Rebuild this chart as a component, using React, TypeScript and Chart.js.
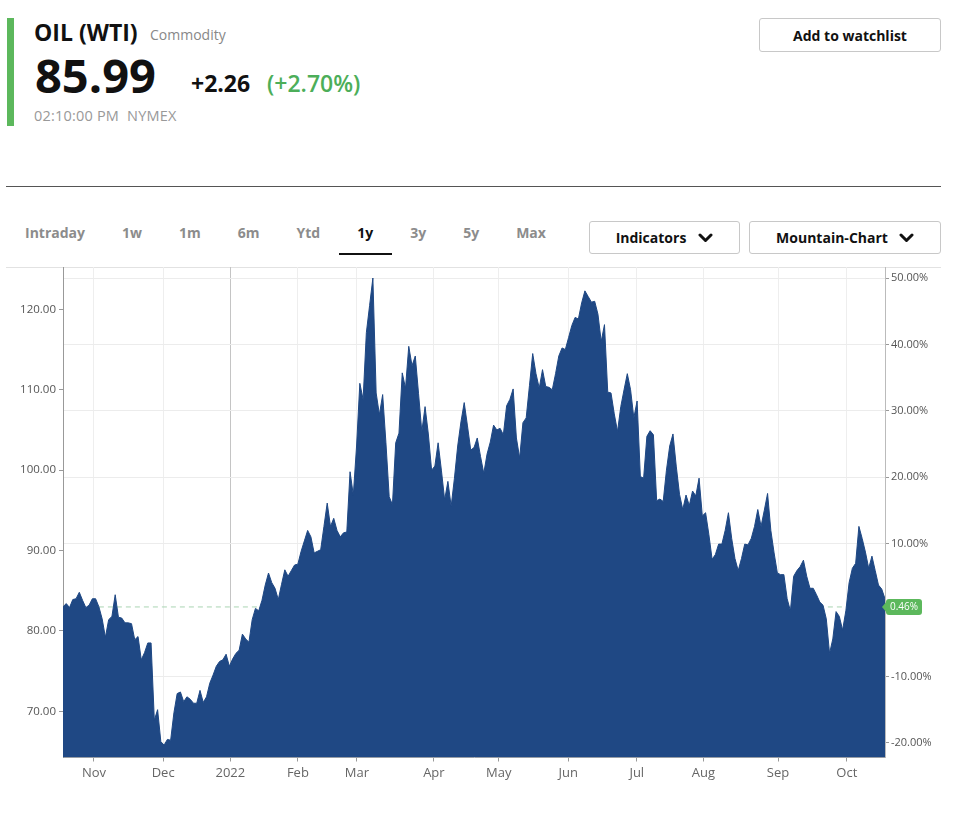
import { useEffect, useRef } from 'react';
import { Chart, registerables } from 'chart.js';

Chart.register(...registerables);

// ---- data ----
const prices = [
  83.0, 83.4, 82.9, 83.9, 84.0, 84.8, 83.8, 82.9, 83.2, 84.0,
  84.0, 83.0, 81.5, 79.2, 81.4, 81.8, 84.5, 81.7, 81.6, 81.0,
  81.0, 80.9, 78.9, 79.3, 76.4, 77.3, 78.5, 78.5, 68.9, 70.2,
  66.2, 65.8, 66.5, 66.4, 69.8, 72.2, 72.4, 71.2, 71.8, 71.5,
  71.0, 71.0, 72.6, 71.1, 71.8, 73.5, 74.5, 75.6, 76.2, 76.4,
  77.1, 75.6, 76.5, 77.2, 77.6, 79.6, 79.0, 78.6, 81.4, 82.8,
  82.5, 83.8, 85.7, 87.2, 86.0, 85.3, 83.9, 85.8, 87.6, 86.8,
  87.5, 88.2, 88.3, 89.9, 91.2, 92.5, 91.7, 89.7, 89.9, 90.1,
  93.0, 95.9, 93.0, 94.0, 92.5, 91.7, 92.2, 92.3, 99.8, 96.9,
  103.0, 110.8, 108.8, 117.1, 120.5, 123.9, 109.6, 106.9, 109.4, 103.4,
  96.7, 95.7, 103.4, 104.6, 112.1, 110.2, 115.4, 113.0, 114.2, 109.5,
  104.8, 107.9, 104.5, 100.0, 100.5, 103.4, 100.0, 96.3, 98.6, 95.5,
  99.0, 103.0, 106.0, 108.4, 105.5, 102.5, 102.8, 104.0, 101.7, 99.6,
  102.0, 103.5, 105.6, 105.0, 105.2, 104.4, 108.0, 108.8, 110.1, 104.0,
  101.5, 105.9, 106.5, 110.5, 114.5, 112.0, 110.2, 112.5, 110.4, 110.3,
  110.0, 112.0, 114.2, 115.2, 115.0, 116.5, 118.0, 119.0, 118.8, 120.8,
  122.3, 121.6, 120.9, 121.0, 119.4, 116.0, 118.1, 109.7, 109.6, 107.0,
  104.8, 107.9, 110.0, 112.0, 110.0, 106.5, 108.6, 99.2, 99.0, 104.2,
  104.9, 104.4, 96.2, 96.4, 96.1, 100.0, 103.0, 104.5, 100.5, 97.0,
  95.1, 96.9, 95.6, 97.4, 96.8, 99.0, 94.3, 94.7, 92.0, 88.9,
  89.5, 90.8, 90.8, 92.5, 94.7, 91.5, 89.0, 87.5, 89.0, 90.8,
  90.7, 91.5, 93.0, 95.1, 93.0, 95.0, 97.1, 92.5, 89.7, 87.2,
  87.0, 87.0, 84.0, 82.5, 86.8, 87.5, 88.0, 88.8, 86.8, 85.3,
  85.3, 84.5, 83.6, 83.2, 81.5, 77.2, 79.0, 82.4, 81.8, 80.1,
  82.5, 86.0, 87.8, 88.4, 93.0, 91.5, 89.8, 87.8, 89.3, 87.5,
  85.7, 85.2, 84.0,
];
const monthTickIdx = [9.5, 30.7, 51.3, 72, 90.1, 113.7, 133.6, 154.9, 175.9, 196.3, 219.2, 240.3];
const monthLabels = ['Nov', 'Dec', '2022', 'Feb', 'Mar', 'Apr', 'May', 'Jun', 'Jul', 'Aug', 'Sep', 'Oct'];
const priceTicks = [70, 80, 90, 100, 110, 120];
const pctTicks = [-20, -10, 10, 20, 30, 40, 50];
const basePrice = 82.6;
const refPct = 0.46;
const refStartIdx = 11;
const priceMin = 64.25;
const priceMax = 125.27;
const tabs = ['Intraday', '1w', '1m', '6m', 'Ytd', '1y', '3y', '5y', 'Max'];
const activeTab = '1y';

const FONT = '"Open Sans", "DejaVu Sans", sans-serif';
const AREA = '#1f4884';
const GREEN = '#5cb85c';

function Chevron() {
  return (
    <svg width="15" height="10" viewBox="0 0 15 10" style={{ display: 'block' }}>
      <polyline points="2,2 7.5,7.5 13,2" fill="none" stroke="#111" strokeWidth="3" strokeLinecap="round" strokeLinejoin="round" />
    </svg>
  );
}

export default function App() {
  const canvasRef = useRef<HTMLCanvasElement | null>(null);

  useEffect(() => {
    if (!canvasRef.current) return;
    const refPrice = basePrice * (1 + refPct / 100);
    const refPlugin = {
      id: 'refLine',
      beforeDatasetsDraw(chart: any) {
        const { ctx, chartArea, scales } = chart;
        const y = scales.y.getPixelForValue(refPrice);
        const x0 = scales.x.getPixelForValue(refStartIdx);
        ctx.save();
        ctx.setLineDash([5, 4]);
        ctx.strokeStyle = '#a9d4b2';
        ctx.lineWidth = 1;
        ctx.beginPath();
        ctx.moveTo(x0, y);
        ctx.lineTo(chartArea.right, y);
        ctx.stroke();
        ctx.restore();
      },
      afterDraw(chart: any) {
        const { ctx, chartArea, scales } = chart;
        const y = scales.y.getPixelForValue(refPrice);
        const tip = chartArea.right - 3;
        const bx = chartArea.right + 1;
        const bw = 36;
        const bh = 16;
        ctx.save();
        ctx.fillStyle = GREEN;
        ctx.beginPath();
        ctx.moveTo(tip, y);
        ctx.lineTo(bx + 1, y - 6);
        ctx.lineTo(bx + 1, y + 6);
        ctx.closePath();
        ctx.fill();
        ctx.beginPath();
        if ((ctx as any).roundRect) {
          (ctx as any).roundRect(bx, y - bh / 2, bw, bh, 3);
        } else {
          ctx.rect(bx, y - bh / 2, bw, bh);
        }
        ctx.fill();
        ctx.fillStyle = '#fff';
        ctx.font = '10px ' + FONT;
        ctx.textAlign = 'center';
        ctx.textBaseline = 'middle';
        ctx.fillText(refPct.toFixed(2) + '%', bx + bw / 2, y + 0.5);
        ctx.restore();
      },
    };

    const chart = new Chart(canvasRef.current, {
      type: 'line',
      data: {
        datasets: [
          {
            data: prices.map((p, i) => ({ x: i, y: p })),
            borderColor: AREA,
            backgroundColor: AREA,
            borderWidth: 1,
            pointRadius: 0,
            tension: 0,
            fill: 'start',
          },
        ],
      },
      options: {
        animation: false,
        responsive: false,
        devicePixelRatio: 1,
        layout: { padding: { top: 20, left: 0, right: 0, bottom: 0 } },
        plugins: { legend: { display: false }, tooltip: { enabled: false } },
        scales: {
          x: {
            type: 'linear',
            min: 0,
            max: prices.length - 1,
            afterBuildTicks: (axis: any) => {
              axis.ticks = monthTickIdx.map((v) => ({ value: v }));
            },
            afterFit: (scale: any) => {
              scale.height = 42.5;
            },
            ticks: {
              autoSkip: false,
              maxRotation: 0,
              padding: 4,
              color: '#666',
              font: { family: FONT, size: 13 },
              callback: (_v: any, i: number) => monthLabels[i],
            },
            grid: {
              color: (c: any) => (monthLabels[c.index] === '2022' ? '#c4c4c4' : '#eeeeee'),
              tickLength: 4,
              tickColor: '#999',
            },
            border: { display: true, color: '#aaa' },
          },
          y: {
            type: 'linear',
            position: 'left',
            min: priceMin,
            max: priceMax,
            afterBuildTicks: (axis: any) => {
              axis.ticks = priceTicks.map((v) => ({ value: v }));
            },
            afterFit: (scale: any) => {
              scale.width = 63;
            },
            ticks: {
              padding: 3,
              color: '#555',
              font: { family: FONT, size: 11.5 },
              callback: (v: any) => Number(v).toFixed(2),
            },
            grid: { drawOnChartArea: false, tickLength: 4, tickColor: '#999' },
            border: { display: true, color: '#999' },
          },
          y2: {
            type: 'linear',
            position: 'right',
            min: (priceMin / basePrice - 1) * 100,
            max: (priceMax / basePrice - 1) * 100,
            afterBuildTicks: (axis: any) => {
              axis.ticks = pctTicks.map((v) => ({ value: v }));
            },
            afterFit: (scale: any) => {
              scale.width = 75;
            },
            ticks: {
              padding: 2,
              color: '#555',
              font: { family: FONT, size: 11 },
              callback: (v: any) => Number(v).toFixed(2) + '%',
            },
            grid: { drawOnChartArea: true, color: '#ececec', tickLength: 4, tickColor: '#999' },
            border: { display: true, color: '#bbb' },
          },
        },
      },
      plugins: [refPlugin],
    } as any);
    return () => chart.destroy();
  }, []);

  const abs = (s: any) => ({ position: 'absolute' as const, ...s });

  return (
    <div style={{ position: 'fixed', left: 0, top: 0, width: 960, height: 816, background: '#fff', fontFamily: FONT, color: '#111', overflow: 'hidden' }}>
      {/* header */}
      <div style={abs({ left: 7, top: 18, width: 7, height: 108, background: GREEN })} />
      <div style={abs({ left: 34, top: 21, fontSize: 23, lineHeight: '23px', fontWeight: 700, whiteSpace: 'nowrap' })}>OIL (WTI)</div>
      <div style={abs({ left: 150, top: 28, fontSize: 14, lineHeight: '14px', color: '#888', whiteSpace: 'nowrap' })}>Commodity</div>
      <div style={abs({ left: 35, top: 51.5, fontSize: 47, lineHeight: '47px', fontWeight: 700, whiteSpace: 'nowrap' })}>85.99</div>
      <div style={abs({ left: 191, top: 72, fontSize: 23, lineHeight: '23px', fontWeight: 700, whiteSpace: 'nowrap' })}>+2.26</div>
      <div style={abs({ left: 267, top: 72, fontSize: 23, lineHeight: '23px', fontWeight: 600, color: '#4cae59', whiteSpace: 'nowrap' })}>(+2.70%)</div>
      <div style={abs({ left: 34, top: 108.5, fontSize: 14.5, lineHeight: '14.5px', color: '#999', whiteSpace: 'pre', letterSpacing: '0.2px' })}>02:10:00 PM  NYMEX</div>

      <div style={abs({ left: 759, top: 18, width: 182, height: 34, boxSizing: 'border-box', border: '1px solid #c8c8c8', borderRadius: 3, display: 'flex', alignItems: 'center', justifyContent: 'center', fontSize: 14, fontWeight: 700 })}>Add to watchlist</div>

      <div style={abs({ left: 6, top: 186, width: 935, height: 1, background: '#555' })} />

      {/* tabs */}
      <div style={abs({ left: 6.5, top: 225.5, display: 'flex' })}>
        {tabs.map((t) => (
          <div
            key={t}
            style={{
              padding: '0 18.5px',
              height: 27.5,
              lineHeight: '14px',
              fontSize: 14,
              fontWeight: 700,
              color: t === activeTab ? '#111' : '#8c8c8c',
              borderBottom: t === activeTab ? '2px solid #111' : '2px solid transparent',
              whiteSpace: 'nowrap',
            }}
          >
            {t}
          </div>
        ))}
      </div>

      <div style={abs({ left: 589, top: 221, width: 151, height: 33, boxSizing: 'border-box', border: '1px solid #c8c8c8', borderRadius: 3, display: 'flex', alignItems: 'center', justifyContent: 'center', gap: 12, fontSize: 14, fontWeight: 700 })}>
        <span>Indicators</span>
        <Chevron />
      </div>
      <div style={abs({ left: 749, top: 221, width: 192, height: 33, boxSizing: 'border-box', border: '1px solid #c8c8c8', borderRadius: 3, display: 'flex', alignItems: 'center', justifyContent: 'center', gap: 11, fontSize: 14, fontWeight: 700 })}>
        <span>Mountain-Chart</span>
        <Chevron />
      </div>

      {/* chart */}
      <div style={abs({ left: 6, top: 266.5, width: 935, height: 1, background: '#e2e2e2' })} />
      <canvas ref={canvasRef} width={960} height={553} style={abs({ left: 0, top: 247, width: 960, height: 553, display: 'block' })} />
    </div>
  );
}
